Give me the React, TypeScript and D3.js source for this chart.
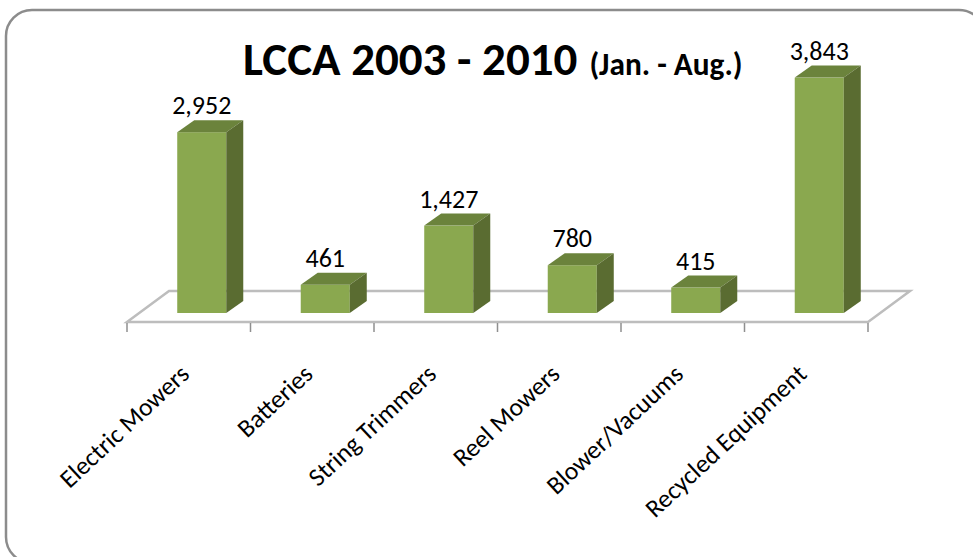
import { scaleBand, scaleLinear, format } from "d3";

const categories = ["Electric Mowers", "Batteries", "String Trimmers", "Reel Mowers", "Blower/Vacuums", "Recycled Equipment"];
const values = [2952, 461, 1427, 780, 415, 3843];

const width = 973;
const height = 557;
const fontFamily = "Carlito, Calibri, 'Open Sans', sans-serif";

// floor of the fake 3d chart
const floorLeft = 127;
const floorRight = 868;
const floorFront = 322;
const floorDepthX = 42;
const floorDepthY = 31;
const barBase = 313;
const barDepthX = 17;
const barDepthY = 12;

export default function App() {
  const x = scaleBand<string>()
    .domain(categories)
    .range([floorLeft, floorRight])
    .paddingInner(0.603)
    .paddingOuter(0.3015);
  const y = scaleLinear().domain([0, 4000]).range([barBase, barBase - 245]);
  const step = x.step();
  const fmt = format(",");

  return (
    <svg
      width={width}
      height={height}
      viewBox={`0 0 ${width} ${height}`}
      style={{ position: "absolute", left: 0, top: 0, background: "#fff" }}
      fontFamily={fontFamily}
    >
      {/* frame runs off the right and bottom of the picture */}
      <rect x="6" y="10" width="979" height="553" rx="26" fill="#fff" stroke="#8c8c8c" strokeWidth="2.5" />

      <path
        d={`M${floorLeft} ${floorFront} L${floorRight} ${floorFront} L${floorRight + floorDepthX} ${floorFront - floorDepthY} L${floorLeft + floorDepthX} ${floorFront - floorDepthY} Z`}
        fill="#fff"
        stroke="#bdbdbd"
        strokeWidth="2.5"
      />
      {categories.concat("").map((_, i) => (
        <line
          key={i}
          x1={floorLeft + step * i}
          x2={floorLeft + step * i}
          y1={floorFront + 1}
          y2={floorFront + 10}
          stroke="#8f8f8f"
          strokeWidth="1.5"
        />
      ))}

      {categories.map((c, i) => {
        const bx = (x(c) ?? 0) + 13;
        const bw = x.bandwidth();
        const top = y(values[i]);
        return (
          <g key={c}>
            <rect x={bx} y={top} width={bw} height={barBase - top} fill="#8aa84f" />
            <path
              d={`M${bx} ${top} L${bx + barDepthX} ${top - barDepthY} L${bx + bw + barDepthX} ${top - barDepthY} L${bx + bw} ${top} Z`}
              fill="#6b833c"
            />
            <path
              d={`M${bx + bw} ${top} L${bx + bw + barDepthX} ${top - barDepthY} L${bx + bw + barDepthX} ${barBase - barDepthY} L${bx + bw} ${barBase} Z`}
              fill="#5a6c31"
            />
            <text x={bx + bw / 2} y={top - 18} textAnchor="middle" fontSize="26" fill="#000">
              {fmt(values[i])}
            </text>
            <text
              transform={`translate(${floorLeft + step * (i + 0.5) + 2}, 376) rotate(-43)`}
              textAnchor="end"
              fontSize="25.5"
              fill="#000"
            >
              {c}
            </text>
          </g>
        );
      })}

      <text x="243" y="75" fontWeight="700" fontSize="47" fill="#000">
        LCCA 2003 - 2010
        <tspan dx="12" fontSize="31.3">(Jan. - Aug.)</tspan>
      </text>
    </svg>
  );
}
